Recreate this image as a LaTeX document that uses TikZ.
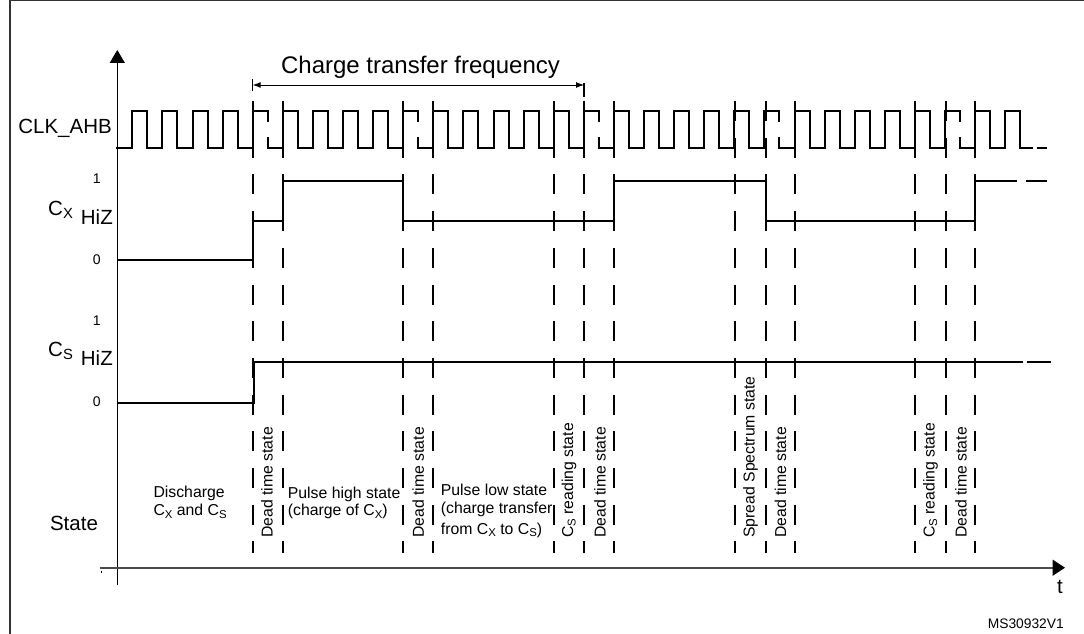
\documentclass[tikz,border=0pt]{standalone}
\usepackage{fontspec}
\usepackage{graphicx}
\setmainfont{Liberation Sans}
\usetikzlibrary{arrows.meta}
\newcommand{\bigf}{\fontsize{20.5}{24}\selectfont}
\newcommand{\titlef}{\fontsize{24}{28}\selectfont}
\newcommand{\smallf}{\fontsize{15.8}{19}\selectfont}
\newcommand{\tinyf}{\fontsize{14}{17}\selectfont}
\newcommand{\lsub}[1]{\raisebox{-0.16em}{\scalebox{0.72}{#1}}}
\begin{document}
\begin{tikzpicture}[x=1pt,y=-1pt,
  wave/.style={line width=2pt, line cap=rect},
  dl/.style={line width=2pt, dash pattern=on 20pt off 16.7pt},
  lbl/.style={inner sep=0pt, font=\bigf},
  num/.style={inner sep=0pt, font=\tinyf},
  st/.style={inner sep=0pt, font=\smallf, anchor=base west},
  rst/.style={inner sep=0pt, font=\smallf, rotate=90, anchor=west},
]
\useasboundingbox (0,0) rectangle (1084,634);
% frame
\draw[line width=1.5pt, black!80] (10,634) -- (10,0.75) -- (1084,0.75);

% title and frequency arrow
\node[inner sep=0pt, font=\titlef, anchor=base] (title) at (420.5,73.3) {Charge transfer frequency};
\coordinate (fa) at (252.7,85);
\coordinate (fb) at (584,85);
\draw[line width=1pt, {Latex[length=8pt,width=6pt]}-{Latex[length=8pt,width=6pt]}] (fa) -- (fb);
\draw[line width=1.5pt] ([yshift=-6pt]fa) -- ([yshift=6pt]fa);
\draw[line width=1.5pt] ([yshift=-12pt]fb) -- ([yshift=2pt]fb);

% dashed state boundaries
\foreach \x in {252.7,282.7,402.7,432.7,554,584,614,735,766,795,915,946,975}
  \draw[dl] (\x,101) -- (\x,553);

% clock
\draw[wave] (117.3,147.7) foreach \n in {-4,...,25} {
   -- ({252.7+30.1*\n},147.7) -- ({252.7+30.1*\n},110.7)
   -- ({267.75+30.1*\n},110.7) -- ({267.75+30.1*\n},147.7) } -- (1031.7,147.7);
\foreach \n in {0,5,11,17,23}
  \draw[white, line width=3pt] ({267.75+30.1*\n},121.5) -- ({267.75+30.1*\n},137);
\draw[line width=2pt] (1036.7,147.7) -- (1046.7,147.7);

% C_X
\draw[wave] (118,260) -- (252.7,260) -- (252.7,220.7) -- (283.5,220.7) -- (282.7,220.7)
  -- (282.7,180.7) -- (402.7,180.7) -- (402.7,220.7) -- (614,220.7) -- (614,180.7)
  -- (766,180.7) -- (766,220.7) -- (975,220.7) -- (975,180.7) -- (1016,180.7);
\draw[line width=2pt] (1026,180.7) -- (1047,180.7);

% C_S
\draw[wave] (118,403.3) -- (254,403.3) -- (254,361.7) -- (1022,361.7);
\draw[line width=2pt] (1027,361.7) -- (1051,361.7);

% axes
\draw[line width=1.2pt, -{Triangle[length=13pt,width=15pt]}] (117.3,585) -- (117.3,50);
\draw[line width=1.6pt, black!70, -{Triangle[length=12.5pt,width=16pt,black]}] (100,567.7) -- (1065,567.7);
\draw[line width=0.8pt] (101,570.5) -- (101,573);

% left labels
\node[lbl, anchor=base east] (clk) at (112,133) {CLK\_AHB};
\node[num] (cx1) at (96.7,178.3) {1};
\node[lbl, anchor=base west] (cx) at (48,215) {C\lsub{X}};
\node[lbl, anchor=base east] (hizx) at (113,224) {HiZ};
\node[num] (cx0) at (96.7,260) {0};
\node[num] (cs1) at (96.7,321) {1};
\node[lbl, anchor=base west] (cs) at (48,356.7) {C\lsub{S}};
\node[lbl, anchor=base east] (hizs) at (113,365) {HiZ};
\node[num] (cs0) at (96.7,401.7) {0};
\node[lbl, anchor=base] (state) at (74,530) {State};

% state texts
\node[st] (dis1) at (153.3,497.5) {Discharge};
\node[st] (dis2) at (153.3,515.5) {C\lsub{X} and C\lsub{S}};
\node[st] (ph1) at (287.7,498.5) {Pulse high state};
\node[st] (ph2) at (287.7,515.5) {(charge of C\lsub{X})};
\node[st] (pl1) at (440.7,495) {Pulse low state};
\node[st] (pl2) at (440.7,513.5) {(charge transfer};
\node[st] (pl3) at (440.7,534) {from C\lsub{X} to C\lsub{S})};

\node[rst] (dt1) at (267,538) {Dead time state};
\node[rst] (dt2) at (418.3,538) {Dead time state};
\node[rst] (rd1) at (569,538) {C\lsub{S} reading state};
\node[rst] (dt3) at (600,538) {Dead time state};
\node[rst] (ss) at (750.5,538) {Spread Spectrum state};
\node[rst] (dt4) at (780.5,538) {Dead time state};
\node[rst] (rd2) at (930.5,538) {C\lsub{S} reading state};
\node[rst] (dt5) at (961,538) {Dead time state};

\node[lbl, anchor=base] (tlab) at (1060,593) {t};
\node[inner sep=0pt, font=\fontsize{13.8}{16}\selectfont, anchor=base east] (ms) at (1064,628) {MS30932V1};
\end{tikzpicture}
\end{document}
